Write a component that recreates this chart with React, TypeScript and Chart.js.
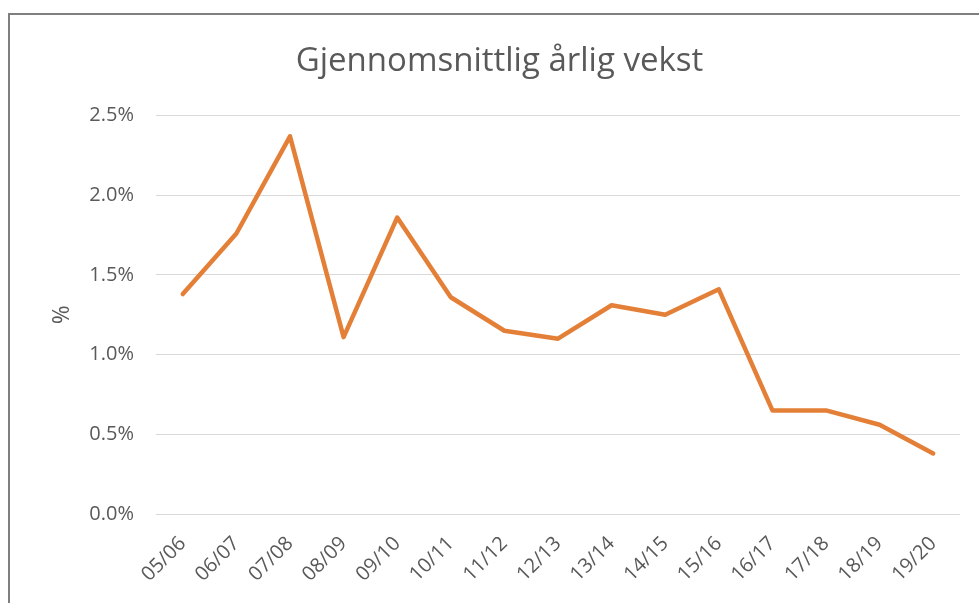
import React, { useEffect, useRef } from "react";
import { Chart, registerables } from "chart.js";

Chart.register(...registerables);

const categories = ["05/06", "06/07", "07/08", "08/09", "09/10", "10/11", "11/12", "12/13", "13/14", "14/15", "15/16", "16/17", "17/18", "18/19", "19/20"];
const growth = [1.38, 1.76, 2.37, 1.11, 1.86, 1.36, 1.15, 1.10, 1.31, 1.25, 1.41, 0.65, 0.65, 0.56, 0.38];
const chartTitle = "Gjennomsnittlig årlig vekst";
const yAxisTitle = "%";

const FONT = "'Open Sans', sans-serif";
const GRAY = "#595959";

export default function App() {
  const ref = useRef<HTMLCanvasElement | null>(null);
  useEffect(() => {
    if (!ref.current) return;
    const chart = new Chart(ref.current, {
      type: "line",
      data: {
        labels: categories,
        datasets: [
          {
            data: growth,
            borderColor: "#E47F37",
            borderWidth: 4.5,
            pointRadius: 0,
            tension: 0,
            borderJoinStyle: "round",
            borderCapStyle: "round",
            fill: false,
          },
        ],
      },
      options: {
        animation: false,
        responsive: false,
        maintainAspectRatio: false,
        layout: { padding: { left: 29, right: 19, top: 0, bottom: 0 } },
        plugins: {
          legend: { display: false },
          tooltip: { enabled: false },
          title: {
            display: true,
            text: chartTitle,
            color: GRAY,
            font: { family: FONT, size: 33, weight: "normal" },
            padding: { top: 27, bottom: 34 },
          },
        },
        scales: {
          x: {
            offset: true,
            grid: { display: false, drawTicks: false },
            border: { display: false },
            ticks: {
              color: GRAY,
              font: { family: FONT, size: 20 },
              maxRotation: 45,
              minRotation: 45,
              padding: 18,
              autoSkip: false,
            },
            afterFit: (s: any) => {
              s.height = 89;
            },
          },
          y: {
            min: 0,
            max: 2.5,
            ticks: {
              stepSize: 0.5,
              color: GRAY,
              font: { family: FONT, size: 20 },
              padding: 22,
              callback: (v: any) => Number(v).toFixed(1) + "%",
            },
            grid: { color: "#d9d9d9", lineWidth: 1, drawTicks: false },
            border: { display: false },
            title: {
              display: true,
              text: yAxisTitle,
              color: GRAY,
              font: { family: FONT, size: 23 },
              padding: { top: 10, bottom: 0 },
            },
            afterFit: (s: any) => {
              s.width = 117;
            },
          },
        },
      },
    });
    return () => chart.destroy();
  }, []);
  return (
    <div
      style={{
        position: "fixed",
        left: 8,
        top: 13,
        right: 0,
        bottom: 0,
        borderLeft: "2px solid #7f7f7f",
        borderTop: "2px solid #7f7f7f",
        background: "#fff",
        overflow: "hidden",
      }}
    >
      <canvas ref={ref} width={969} height={588} style={{ display: "block" }} />
    </div>
  );
}
